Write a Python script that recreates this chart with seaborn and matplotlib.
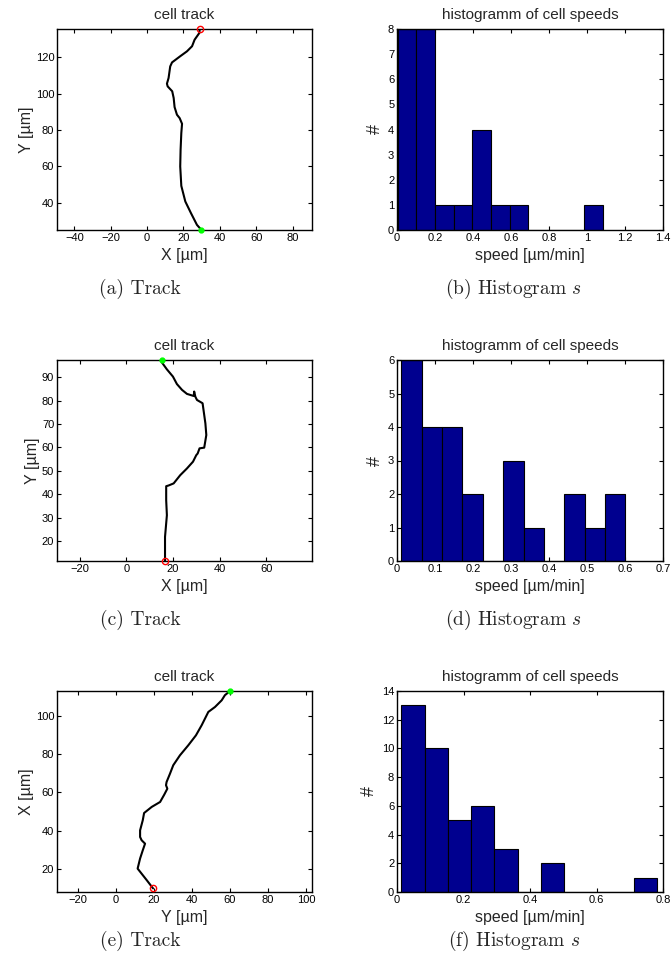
import numpy as np
import pandas as pd
import matplotlib
matplotlib.use("Agg")
import matplotlib.pyplot as plt
from matplotlib.ticker import FormatStrFormatter, MultipleLocator
import seaborn as sns

# ---- cell tracks (first point = start marker, last point = end marker) ----
track_a_x = [29.8, 27.4, 24.1, 21.0, 18.8, 18.2, 18.4, 18.8, 19.2, 17.9, 16.4, 15.1, 14.6,
             13.8, 11.3, 10.9, 11.8, 12.7, 13.7, 18.2, 21.9, 24.7, 26.1, 28.7, 28.9]
track_a_y = [25.0, 27.7, 34.2, 40.6, 49.2, 59.9, 69.1, 78.3, 83.4, 86.5, 88.4, 92.6, 97.6,
             101.3, 104.0, 105.5, 108.6, 115.0, 117.2, 120.6, 123.3, 126.1, 129.7, 133.4, 135.6]

track_c_x = [15.1, 15.3, 17.4, 20.0, 21.7, 23.9, 26.0, 28.9, 29.1, 29.6, 30.3, 32.7, 33.9,
             34.3, 33.4, 31.4, 30.7, 30.6, 30.0, 28.6, 26.0, 23.1, 20.3, 18.1, 17.1, 17.1,
             17.4, 16.6, 16.6, 16.6]
track_c_y = [97.4, 96.3, 93.4, 90.3, 87.1, 84.6, 82.9, 82.0, 83.9, 81.7, 80.3, 78.9, 70.3,
             65.3, 59.9, 59.6, 57.7, 57.4, 56.7, 53.9, 51.0, 48.1, 44.6, 43.7, 43.4, 37.4,
             31.0, 21.7, 14.6, 11.4]

track_e_x = [60.0, 57.3, 55.6, 52.1, 48.6, 45.1, 42.1, 38.1, 33.7, 30.2, 28.5, 26.7, 26.4,
             27.1, 25.5, 23.3, 18.9, 14.9, 14.2, 12.8, 12.8, 13.6, 15.4, 14.2, 12.8, 11.5,
             16.3, 19.6]
track_e_y = [113.3, 111.1, 108.4, 104.9, 102.3, 95.3, 90.0, 84.8, 79.5, 74.3, 69.9, 65.5, 63.8,
             62.0, 58.9, 55.0, 52.4, 49.2, 45.4, 40.1, 36.6, 34.9, 33.1, 29.6, 25.3, 20.0,
             13.9, 9.6]

# ---- speed histograms: first bin edge, bin width, counts per bin ----
hist_b_start, hist_b_width = 0.003, 0.0982
hist_b_counts = [8, 8, 1, 1, 4, 1, 1, 0, 0, 0, 1]
hist_d_start, hist_d_width = 0.0114, 0.0536
hist_d_counts = [6, 4, 4, 2, 0, 3, 1, 0, 2, 1, 2]
hist_f_start, hist_f_width = 0.013, 0.070
hist_f_counts = [13, 10, 5, 6, 3, 0, 2, 0, 0, 0, 1]

captions = ["(a) Track", "(b) Histogram $s$", "(c) Track", "(d) Histogram $s$",
            "(e) Track", "(f) Histogram $s$"]

sns.set_style("ticks")
plt.rcParams["font.family"] = ["Liberation Sans", "DejaVu Sans"]
plt.rcParams["mathtext.fontset"] = "cm"
plt.rcParams.update({
    "axes.edgecolor": "black",
    "axes.linewidth": 1.0,
    "xtick.direction": "in",
    "ytick.direction": "in",
    "xtick.top": True,
    "ytick.right": True,
    "xtick.major.size": 3,
    "ytick.major.size": 3,
    "xtick.major.pad": 2.5,
    "ytick.major.pad": 2,
    "xtick.color": "black",
    "ytick.color": "black",
    "xtick.labelsize": 8,
    "ytick.labelsize": 8,
})

W, H = 672, 966
fig = plt.figure(figsize=(W / 100, H / 100), dpi=100)


def px_axes(x0, y0, x1, y1):
    return fig.add_axes([x0 / W, 1 - y1 / H, (x1 - x0) / W, (y1 - y0) / H])


NAVY = "#00008f"


def draw_track(ax, xs, ys, xlim, ylim, xstep, ystep, xlabel, ylabel):
    df = pd.DataFrame({"x": xs, "y": ys})
    sns.lineplot(data=df, x="x", y="y", sort=False, estimator=None, color="black",
                 linewidth=1.5, ax=ax)
    ax.plot(xs[0], ys[0], "o", color="#00ff00", markersize=3.5, clip_on=False, zorder=5)
    ax.plot(xs[-1], ys[-1], "o", mfc="none", mec="red", mew=1.0, markersize=4.5,
            clip_on=False, zorder=5)
    ax.set_xlim(*xlim)
    ax.set_ylim(*ylim)
    ax.xaxis.set_major_locator(MultipleLocator(xstep))
    ax.yaxis.set_major_locator(MultipleLocator(ystep))
    ax.set_title("cell track", fontsize=11, pad=7)
    ax.set_xlabel(xlabel, fontsize=11.5, labelpad=3.5)
    ax.set_ylabel(ylabel, fontsize=11.5, labelpad=1.5)


def draw_hist(ax, start, width, counts, xmax, ymax, xstep, ystep):
    n = len(counts)
    edges = start + width * np.arange(n + 1)
    df = pd.DataFrame({"speed": (edges[:-1] + edges[1:]) / 2,
                       "count": np.asarray(counts, dtype=float)})
    sns.histplot(data=df, x="speed", weights="count", bins=n,
                 binrange=(float(edges[0]), float(edges[-1])), color=NAVY,
                 edgecolor="black", linewidth=0.8, alpha=1.0, ax=ax)
    ax.set_xlim(0, xmax)
    ax.set_ylim(0, ymax)
    ax.xaxis.set_major_locator(MultipleLocator(xstep))
    ax.yaxis.set_major_locator(MultipleLocator(ystep))
    ax.xaxis.set_major_formatter(FormatStrFormatter("%g"))
    ax.yaxis.set_major_formatter(FormatStrFormatter("%g"))
    ax.set_title("histogramm of cell speeds", fontsize=11, pad=7)
    ax.set_xlabel("speed [µm/min]", fontsize=11.5, labelpad=3.5)
    ax.set_ylabel("#", fontsize=13, labelpad=3)


rows = [(29, 230), (360, 561), (691, 892)]
ax_a = px_axes(57, rows[0][0], 312, rows[0][1])
ax_b = px_axes(397, rows[0][0], 663, rows[0][1])
ax_c = px_axes(57, rows[1][0], 312, rows[1][1])
ax_d = px_axes(397, rows[1][0], 663, rows[1][1])
ax_e = px_axes(57, rows[2][0], 312, rows[2][1])
ax_f = px_axes(397, rows[2][0], 663, rows[2][1])

draw_track(ax_a, track_a_x, track_a_y, (-49.5, 90.6), (24.9, 135.6), 20, 20, "X [µm]", "Y [µm]")
draw_track(ax_c, track_c_x, track_c_y, (-29.7, 79.6), (11.4, 97.4), 20, 10, "X [µm]", "Y [µm]")
draw_track(ax_e, track_e_x, track_e_y, (-30.8, 103.0), (7.7, 113.3), 20, 20, "Y [µm]", "X [µm]")

draw_hist(ax_b, hist_b_start, hist_b_width, hist_b_counts, 1.4, 8, 0.2, 1)
draw_hist(ax_d, hist_d_start, hist_d_width, hist_d_counts, 0.7, 6, 0.1, 1)
draw_hist(ax_f, hist_f_start, hist_f_width, hist_f_counts, 0.8, 14, 0.2, 2)

cap_y = [289, 620, 941]
cap_x = [140, 514]
for i, text in enumerate(captions):
    r, c = divmod(i, 2)
    fig.text(cap_x[c] / W, 1 - cap_y[r] / H, text, ha="center", va="center",
             fontsize=14, family="cmr10")

fig.savefig("out.png", dpi=100)
